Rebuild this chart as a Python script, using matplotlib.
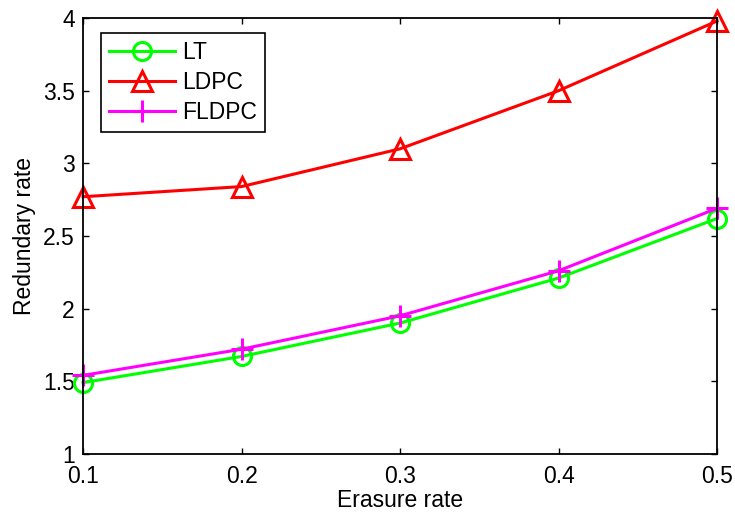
import matplotlib.pyplot as plt

erasure = [0.1, 0.2, 0.3, 0.4, 0.5]
lt = [1.49, 1.67, 1.90, 2.21, 2.62]
ldpc = [2.77, 2.84, 3.10, 3.50, 3.98]
fldpc = [1.54, 1.72, 1.95, 2.26, 2.69]

xticks = [0.1, 0.2, 0.3, 0.4, 0.5]
xlabels = ['0.1', '0.2', '0.3', '0.4', '0.5']
yticks = [1, 1.5, 2, 2.5, 3, 3.5, 4]
ylabels = ['1', '1.5', '2', '2.5', '3', '3.5', '4']

plt.rcParams['font.family'] = ['Liberation Sans', 'DejaVu Sans']
fs = 16.5

fig = plt.figure(figsize=(7.35, 5.18), dpi=100)
ax = fig.add_axes([0.113, 0.124, 0.8625, 0.841])

ax.plot(erasure, lt, '-o', color='#00ff00', lw=2.2, ms=13, mew=2.2,
        mfc='none', label='LT', clip_on=False)
ax.plot(erasure, ldpc, '-^', color='#ff0000', lw=2.2, ms=15, mew=2.2,
        mfc='none', label='LDPC', clip_on=False)
ax.plot(erasure, fldpc, '-+', color='#ff00ff', lw=2.2, ms=16, mew=2.2,
        label='FLDPC', clip_on=False)

ax.set_xlim(0.1, 0.5)
ax.set_ylim(1, 4)
ax.set_xticks(xticks)
ax.set_xticklabels(xlabels)
ax.set_yticks(yticks)
ax.set_yticklabels(ylabels)
ax.tick_params(direction='in', top=True, right=True, labelsize=fs,
               length=4, width=1, pad=6)
ax.tick_params(axis='x', pad=8)
for s in ax.spines.values():
    s.set_linewidth(1.3)

ax.set_xlabel('Erasure rate', fontsize=fs, labelpad=1)
ax.set_ylabel('Redundary rate', fontsize=fs, labelpad=5)

leg = ax.legend(loc='upper left', bbox_to_anchor=(0.028, 0.966), fontsize=fs,
                fancybox=False, edgecolor='black', framealpha=1,
                handlelength=2.9, borderpad=0.35, labelspacing=0.3,
                handletextpad=0.3, borderaxespad=0)
leg.get_frame().set_linewidth(1.2)

fig.savefig('out.png', dpi=100)
